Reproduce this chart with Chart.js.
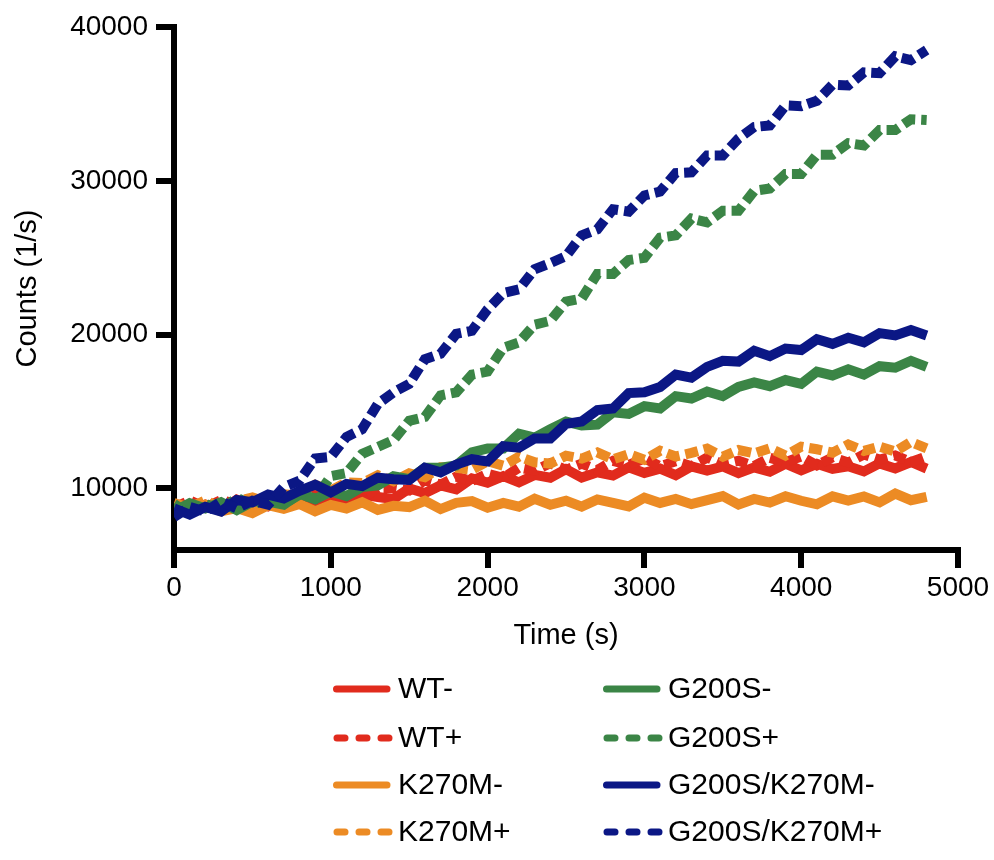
<!DOCTYPE html>
<html>
<head>
<meta charset="utf-8">
<script src="https://cdn.jsdelivr.net/npm/chart.js@4.4.1/dist/chart.umd.min.js"></script>
<style>
  html, body { margin: 0; padding: 0; background: #fff; }
  #wrap { width: 994px; height: 860px; }
</style>
</head>
<body>
<div id="wrap"><canvas id="chart" width="994" height="860"></canvas></div>
<script>
// time points (s)
const times = [0, 100, 200, 300, 400, 500, 600, 700, 800, 900,
  1000, 1100, 1200, 1300, 1400, 1500, 1600, 1700, 1800, 1900,
  2000, 2100, 2200, 2300, 2400, 2500, 2600, 2700, 2800, 2900,
  3000, 3100, 3200, 3300, 3400, 3500, 3600, 3700, 3800, 3900,
  4000, 4100, 4200, 4300, 4400, 4500, 4600, 4700, 4800]

const xTicks = [0, 1000, 2000, 3000, 4000, 5000]
const yTicks = [10000, 20000, 30000, 40000]

// counts (1/s)
const wtMinus = [9000, 8570, 8950, 8580, 9270, 8860, 9250, 8850, 9150, 8810,
  9530, 9160, 9600, 9450, 9320, 10000, 9700, 10200, 9950, 10650,
  10380, 10800, 10400, 10880, 10700, 11260, 10710, 11050, 10840, 11380,
  11010, 11290, 10870, 11440, 11160, 11430, 11000, 11370, 11090, 11610,
  11180, 11600, 11270, 11440, 11110, 11630, 11300, 11720, 11290]

const wtPlus = [8750, 9230, 8760, 9250, 8990, 9290, 8840, 9350, 9020, 9700,
  9340, 9590, 9350, 10030, 10020, 9870, 10530, 10250, 10770, 10490,
  10950, 10690, 11360, 11160, 11640, 11210, 11610, 11200, 11790, 11530,
  11960, 11440, 11770, 11440, 12010, 11580, 11800, 11470, 11990, 11710,
  12080, 11500, 12020, 11690, 12210, 11880, 12150, 11720, 12090]

const k270mMinus = [8700, 8420, 8940, 8510, 8730, 8400, 8910, 8670, 8990, 8510,
  8930, 8690, 9100, 8610, 8870, 8790, 9200, 8660, 9070, 9180,
  8750, 9060, 8820, 9330, 8940, 9200, 8820, 9290, 9060, 8830,
  9400, 9060, 9320, 8980, 9240, 9500, 8960, 9320, 9080, 9490,
  9200, 8970, 9490, 9210, 9480, 9100, 9670, 9240, 9460]

const k270mPlus = [9050, 8750, 9220, 8750, 9150, 9420, 9060, 9620, 9550, 10230,
  9860, 10390, 10350, 10860, 10470, 10980, 10730, 11370, 11350, 11220,
  11780, 11480, 12070, 11700, 11620, 12130, 11940, 12340, 11890, 12230,
  11870, 12450, 12080, 12310, 12590, 12070, 12500, 12280, 12610, 12140,
  12720, 12550, 12330, 12860, 12440, 12720, 12400, 13030, 12610]

const g200sMinus = [8500, 9050, 8700, 9100, 8600, 9150, 9150, 8950, 9650, 9300,
  9800, 9500, 10100, 10200, 10800, 10600, 11350, 11350, 11500, 12350,
  12600, 12600, 13550, 13300, 13850, 14350, 14100, 14150, 14950, 14850,
  15350, 15200, 16000, 15850, 16300, 16000, 16600, 16900, 16650, 17050,
  16800, 17600, 17350, 17750, 17400, 17950, 17850, 18300, 17900]

const g200sPlus = [9000, 8350, 9000, 8600, 9400, 8900, 9500, 9000, 9600, 9350,
  10800, 11000, 12250, 12700, 13150, 14400, 14650, 16050, 16250, 17400,
  17600, 19150, 19500, 20650, 20900, 22150, 22350, 23950, 23950, 24850,
  25000, 26300, 26450, 27550, 27300, 28050, 28050, 29350, 29500, 30450,
  30450, 31700, 31700, 32450, 32300, 33300, 33300, 34000, 33950]

const dblMinus = [8700, 8300, 8800, 8500, 9250, 9100, 9600, 9350, 9850, 10250,
  9750, 10300, 10150, 10700, 10600, 10550, 11350, 11050, 11550, 11900,
  11750, 12750, 12650, 13250, 13250, 14200, 14350, 15100, 15200, 16200,
  16250, 16600, 17400, 17200, 17900, 18300, 18250, 18950, 18600, 19100,
  19000, 19700, 19400, 19800, 19500, 20100, 19950, 20300, 19950]

const dblPlus = [8150, 8800, 8500, 9150, 8700, 9200, 8950, 10100, 10500, 11950,
  12050, 13350, 13850, 15500, 16250, 16800, 18400, 18750, 20050, 20250,
  21650, 22700, 22950, 24250, 24650, 25100, 26450, 26850, 28150, 28000,
  29050, 29300, 30500, 30550, 31650, 31650, 32750, 33500, 33600, 34900,
  34850, 35200, 36250, 36200, 37050, 37000, 38100, 37850, 38500]

const labels = ['WT-', 'WT+', 'K270M-', 'K270M+', 'G200S-', 'G200S+', 'G200S/K270M-', 'G200S/K270M+']
const series = [wtMinus, wtPlus, k270mMinus, k270mPlus, g200sMinus, g200sPlus, dblMinus, dblPlus]
const colors = ['#e12b1d', '#e12b1d', '#ec8b24', '#ec8b24', '#3b8546', '#3b8546', '#0b1785', '#0b1785']
const dashed = [false, true, false, true, false, true, false, true]

const FONT = "'Liberation Sans', Arial, sans-serif"

const datasets = series.map((vals, i) => ({
  label: labels[i],
  data: vals.map((v, j) => ({ x: times[j], y: v })),
  borderColor: colors[i],
  backgroundColor: colors[i],
  borderWidth: 10,
  borderDash: dashed[i] ? [13, 6] : [],
  borderJoinStyle: 'miter',
  pointRadius: 0,
  tension: 0,
  fill: false,
  // later series sit on top
  order: series.length - 1 - i
}))

// two-column legend under the plot
const legendPlugin = {
  id: 'columnLegend',
  afterDraw(chart) {
    const ctx = chart.ctx
    const rows = [689, 738, 785, 832]
    const cols = [333, 603]
    ctx.save()
    ctx.font = '30px ' + FONT
    ctx.textBaseline = 'middle'
    ctx.textAlign = 'left'
    chart.data.datasets.forEach((ds, i) => {
      const col = i < 4 ? 0 : 1
      const x = cols[col]
      const y = rows[i % 4]
      ctx.strokeStyle = ds.borderColor
      ctx.lineWidth = 7
      ctx.lineCap = 'round'
      ctx.beginPath()
      if (ds.borderDash.length) {
        ctx.setLineDash([8, 14])
        ctx.moveTo(x + 4, y)
        ctx.lineTo(x + 56, y)
      } else {
        ctx.setLineDash([])
        ctx.moveTo(x + 3.5, y)
        ctx.lineTo(x + 54, y)
      }
      ctx.stroke()
      ctx.setLineDash([])
      ctx.fillStyle = '#000'
      ctx.fillText(ds.label, x + 65, y + 1)
    })
    ctx.restore()
  }
}

new Chart(document.getElementById('chart'), {
  type: 'line',
  data: { datasets },
  options: {
    responsive: false,
    animation: false,
    devicePixelRatio: 1,
    layout: { padding: { left: 0, right: 36, top: 27, bottom: 200 } },
    plugins: { legend: { display: false }, tooltip: { enabled: false } },
    scales: {
      x: {
        type: 'linear',
        min: 0,
        max: 5000,
        afterBuildTicks: (scale) => { scale.ticks = xTicks.map(v => ({ value: v })) },
        afterFit: (scale) => { scale.height = 110 },
        border: { display: true, width: 6, color: '#000' },
        grid: { drawOnChartArea: false, tickLength: 18, tickWidth: 6, tickColor: '#000', lineWidth: 6, color: '#000' },
        ticks: { color: '#000', font: { family: FONT, size: 28 }, padding: 3, maxRotation: 0, callback: v => String(v) },
        title: { display: true, text: 'Time (s)', color: '#000', font: { family: FONT, size: 29 }, padding: { top: 0, bottom: 7 } }
      },
      y: {
        type: 'linear',
        min: 6000,
        max: 40000,
        afterBuildTicks: (scale) => { scale.ticks = yTicks.map(v => ({ value: v })) },
        afterFit: (scale) => { scale.width = 174 },
        border: { display: true, width: 6, color: '#000' },
        grid: { drawOnChartArea: false, tickLength: 18, tickWidth: 6, tickColor: '#000', lineWidth: 6, color: '#000' },
        ticks: { color: '#000', font: { family: FONT, size: 28 }, padding: 8, callback: v => String(v) },
        title: { display: true, text: 'Counts (1/s)', color: '#000', font: { family: FONT, size: 29 }, padding: { top: 11, bottom: 0 } }
      }
    }
  },
  plugins: [legendPlugin]
})
</script>
</body>
</html>
